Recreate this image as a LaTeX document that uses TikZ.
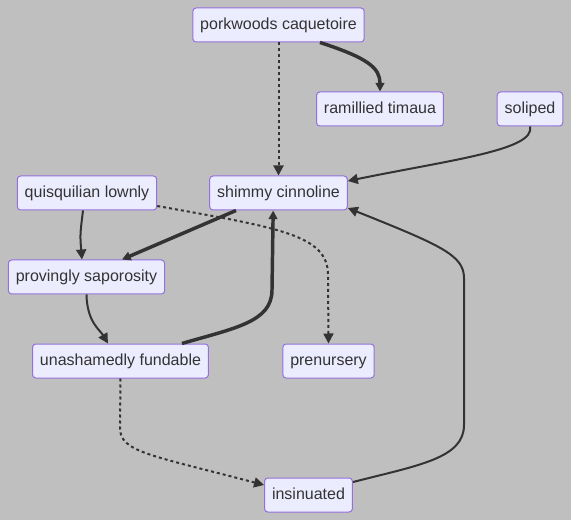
\documentclass[tikz,border=0pt]{standalone}
\usepackage{fontspec}
\setmainfont{Liberation Sans}
\usepackage{tikz}
\usepackage{xcolor}
\usetikzlibrary{arrows.meta}
\definecolor{mmbg}{RGB}{191, 191, 191}
\definecolor{mmfill}{RGB}{236, 236, 255}
\definecolor{mmborder}{RGB}{147, 112, 219}
\definecolor{mmline}{RGB}{51, 51, 51}
\tikzset{
    flownode/.style={rectangle, rounded corners=2.5pt, draw=mmborder, fill=mmfill, line width=0.75pt,
        text=mmline, font=\fontsize{12pt}{14pt}\selectfont, inner xsep=5.6pt, inner ysep=0pt,
        text height=9pt, text depth=2.5pt, minimum height=25.5pt},
    plainedge/.style={draw=mmline, line width=1.5pt, -{Triangle[length=7.5pt, width=7.5pt]}},
    thickedge/.style={draw=mmline, line width=2.6pt, -{Triangle[length=6.5pt, width=6.5pt]}},
    dottededge/.style={plainedge, dash pattern=on 2.25pt off 2.25pt}
}

\begin{document}
\begin{tikzpicture}[x=0.75pt, y=-0.75pt]
    \fill[mmbg] (0,0) rectangle (571,520);
    \useasboundingbox (0,0) rectangle (571,520);
    % nodes
    \node[flownode] (pc) at (278.5,25) {porkwoods caquetoire};
    \node[flownode] (rt) at (380,109) {ramillied timaua};
    \node[flownode] (sl) at (530,109) {soliped};
    \node[flownode] (ql) at (87,193) {quisquilian lownly};
    \node[flownode] (sc) at (278.5,193) {shimmy cinnoline};
    \node[flownode] (ps) at (86.5,277) {provingly saporosity};
    \node[flownode] (uf) at (120.5,361) {unashamedly fundable};
    \node[flownode] (pn) at (328.5,361) {prenursery};
    \node[flownode] (in) at (308.5,495) {insinuated};
    % edges
    \draw[dottededge] (pc.south) -- (sc.north);
    \draw[thickedge] ([xshift=31.1pt]pc.south) .. controls (368,58) and (380,68) .. (rt.north);
    \draw[plainedge] (sl.south) .. controls (536,150) and (450,160) .. ([yshift=9pt]sc.east);
    \draw[plainedge] ([xshift=-3pt]ql.south) .. controls (80,235) .. ([xshift=-3.4pt]ps.north);
    \draw[dottededge] ([yshift=-9.75pt]ql.east) .. controls (280,228) and (328,235) .. (328,275) -- (pn.north);
    \draw[thickedge] ([xshift=-31.9pt]sc.south) -- ([xshift=26.6pt]ps.north);
    \draw[plainedge] (ps.south) .. controls (87,322) and (100,330) .. ([xshift=-9.4pt]uf.north);
    \draw[thickedge] ([xshift=46.1pt]uf.north) .. controls (235,328) and (272,322) .. (272,290) -- ([xshift=-4pt]sc.south);
    \draw[dottededge] (uf.south) -- (120,428) .. controls (120,452) and (150,455) .. ([yshift=7.5pt]in.west);
    \draw[plainedge] ([yshift=9.75pt]in.east) .. controls (420,465) and (464,458) .. (464,425)
        -- (464,278) .. controls (464,255) and (440,245) .. ([yshift=-11.25pt]sc.east);
\end{tikzpicture}
\end{document}
